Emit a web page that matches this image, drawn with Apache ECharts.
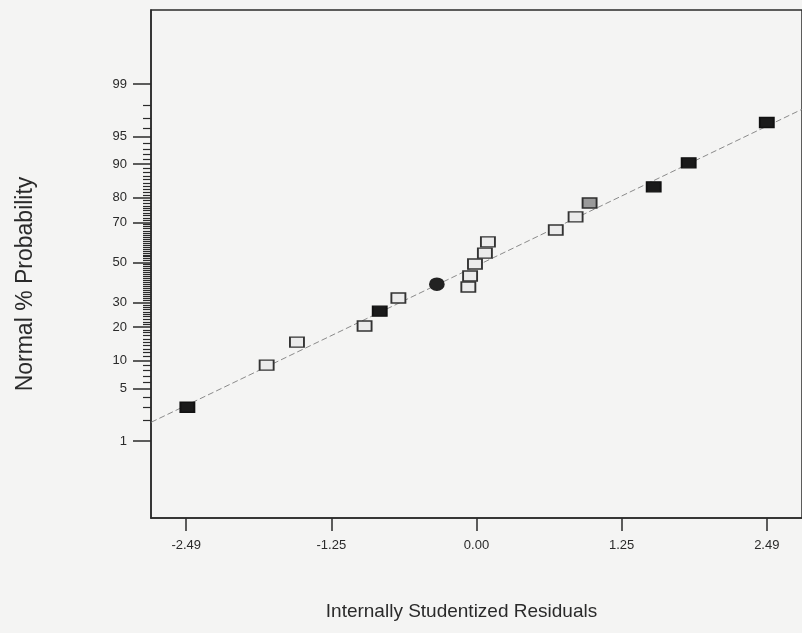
<!DOCTYPE html>
<html>
<head>
<meta charset="utf-8">
<script src="https://cdn.jsdelivr.net/npm/echarts@6/dist/echarts.min.js"></script>
<style>
html,body{margin:0;padding:0;background:#f4f4f3;}
#chart{width:802px;height:633px;}
</style>
</head>
<body>
<div id="chart"></div>
<script>
// ---- data ----
const residuals = [-2.48, -1.80, -1.54, -0.96, -0.83, -0.67, -0.34, -0.07, -0.055, -0.013, 0.072, 0.098, 0.68, 0.85, 0.97, 1.52, 1.82, 2.49];
const probabilities = [2.96, 9.05, 14.96, 20.4, 26.3, 32.2, 38.9, 37.5, 43.0, 49.2, 54.9, 60.6, 66.4, 72.4, 78.1, 83.8, 90.3, 96.6];
const pointGroup = ['black','white','white','white','black','white','circle','white','white','white','white','white','white','white','grey','black','black','black'];
const lineResiduals = [-2.79, 2.79];
const lineProbabilities = [1.87, 97.7];
const yMajorTicks = [1, 5, 10, 20, 30, 50, 70, 80, 90, 95, 99];
const xTickValues = [-2.49, -1.245, 0, 1.245, 2.49];
const xTickLabels = ['-2.49', '-1.25', '0.00', '1.25', '2.49'];
const yRangeProb = [0.0435, 99.95];
const xRange = [-2.792, 2.792];

// inverse normal CDF (Acklam)
function probit(p) {
  const a=[-3.969683028665376e+01,2.209460984245205e+02,-2.759285104469687e+02,1.383577518672690e+02,-3.066479806614716e+01,2.506628277459239e+00];
  const b=[-5.447609879822406e+01,1.615858368580409e+02,-1.556989798598866e+02,6.680131188771972e+01,-1.328068155288572e+01];
  const c=[-7.784894002430293e-03,-3.223964580411365e-01,-2.400758277161838e+00,-2.549732539343734e+00,4.374664141464968e+00,2.938163982698783e+00];
  const d=[7.784695709041462e-03,3.224671290700398e-01,2.445134137142996e+00,3.754408661907416e+00];
  const pl=0.02425, ph=1-pl; let q,r;
  if(p<pl){q=Math.sqrt(-2*Math.log(p));return (((((c[0]*q+c[1])*q+c[2])*q+c[3])*q+c[4])*q+c[5])/((((d[0]*q+d[1])*q+d[2])*q+d[3])*q+1);}
  if(p<=ph){q=p-0.5;r=q*q;return (((((a[0]*r+a[1])*r+a[2])*r+a[3])*r+a[4])*r+a[5])*q/(((((b[0]*r+b[1])*r+b[2])*r+b[3])*r+b[4])*r+1);}
  q=Math.sqrt(-2*Math.log(1-p));return -(((((c[0]*q+c[1])*q+c[2])*q+c[3])*q+c[4])*q+c[5])/((((d[0]*q+d[1])*q+d[2])*q+d[3])*q+1);
}
const z = pct => probit(pct / 100);

const yMin = z(yRangeProb[0]), yMax = z(yRangeProb[1]);
const majorZ = yMajorTicks.map(z);
const minorZ = [];
for (let i = 1; i <= 99; i++) if (yMajorTicks.indexOf(i) < 0) minorZ.push(z(i));

const styles = {
  black:  {symbol:'rect', size:[14,10], color:'#1a1a1a', border:'#111111'},
  white:  {symbol:'rect', size:[14,10], color:'#ebebeb', border:'#333333'},
  grey:   {symbol:'rect', size:[14,10], color:'#9a9a9a', border:'#2e2e2e'},
  circle: {symbol:'circle', size:[14,12], color:'#222222', border:'#222222'}
};

const pointSeries = Object.keys(styles).map(g => ({
  type:'scatter', xAxisIndex:0, yAxisIndex:0, z:5,
  symbol: styles[g].symbol, symbolSize: styles[g].size,
  itemStyle:{color:styles[g].color, borderColor:styles[g].border, borderWidth:1.6, opacity:1},
  data: residuals.map((r,i)=>pointGroup[i]===g ? [r, z(probabilities[i])] : null).filter(v=>v)
}));

const fontFam = '"Liberation Sans", Arial, sans-serif';
const chart = echarts.init(document.getElementById('chart'), null, {renderer:'canvas'});
chart.setOption({
  backgroundColor:'#f4f4f3',
  animation:false,
  grid:{left:151, top:10, width:655, height:508, show:true, borderColor:'#2a2a2a', borderWidth:1.5, backgroundColor:'transparent'},
  xAxis:{
    type:'value', min:xRange[0], max:xRange[1],
    name:'Internally Studentized Residuals', nameLocation:'middle', nameGap:84,
    nameTextStyle:{fontSize:19, color:'#2a2a2a', fontFamily:fontFam, padding:[0,30,0,0]},
    axisLine:{show:true, onZero:false, lineStyle:{color:'#2a2a2a', width:1.5}},
    axisTick:{show:true, customValues:xTickValues, length:13, inside:false, lineStyle:{color:'#2a2a2a', width:1.5}},
    axisLabel:{customValues:xTickValues, margin:21, fontSize:13, color:'#2a2a2a', fontFamily:fontFam,
      formatter:(v)=>{const k=xTickValues.findIndex(t=>Math.abs(t-v)<1e-6);return k>=0?xTickLabels[k]:'';}},
    splitLine:{show:false}
  },
  yAxis:[{
    type:'value', min:yMin, max:yMax, position:'left',
    name:'Normal % Probability', nameLocation:'middle', nameGap:114, nameRotate:90,
    nameTextStyle:{fontSize:23, color:'#2a2a2a', fontFamily:fontFam, padding:[0,40,0,0]},
    axisLine:{show:true, onZero:false, lineStyle:{color:'#2a2a2a', width:1.5}},
    axisTick:{show:true, customValues:majorZ, length:18, inside:false, lineStyle:{color:'#2a2a2a', width:1.5}},
    axisLabel:{customValues:majorZ, margin:24, fontSize:13, color:'#2a2a2a', fontFamily:fontFam,
      formatter:(v)=>{const k=majorZ.findIndex(t=>Math.abs(t-v)<1e-6);return k>=0?String(yMajorTicks[k]):'';}},
    splitLine:{show:false}
  },{
    type:'value', min:yMin, max:yMax, position:'left', offset:0,
    axisLine:{show:false, onZero:false},
    axisTick:{show:true, customValues:minorZ, length:8, inside:false, lineStyle:{color:'#2a2a2a', width:1.2}},
    axisLabel:{show:false},
    splitLine:{show:false}
  }],
  series:[{
    type:'line', xAxisIndex:0, yAxisIndex:0, z:3, symbol:'none', silent:true,
    lineStyle:{color:'#8a8a8a', width:1, type:[6,3]},
    data: lineResiduals.map((r,i)=>[r, z(lineProbabilities[i])])
  }].concat(pointSeries)
});
</script>
</body>
</html>
